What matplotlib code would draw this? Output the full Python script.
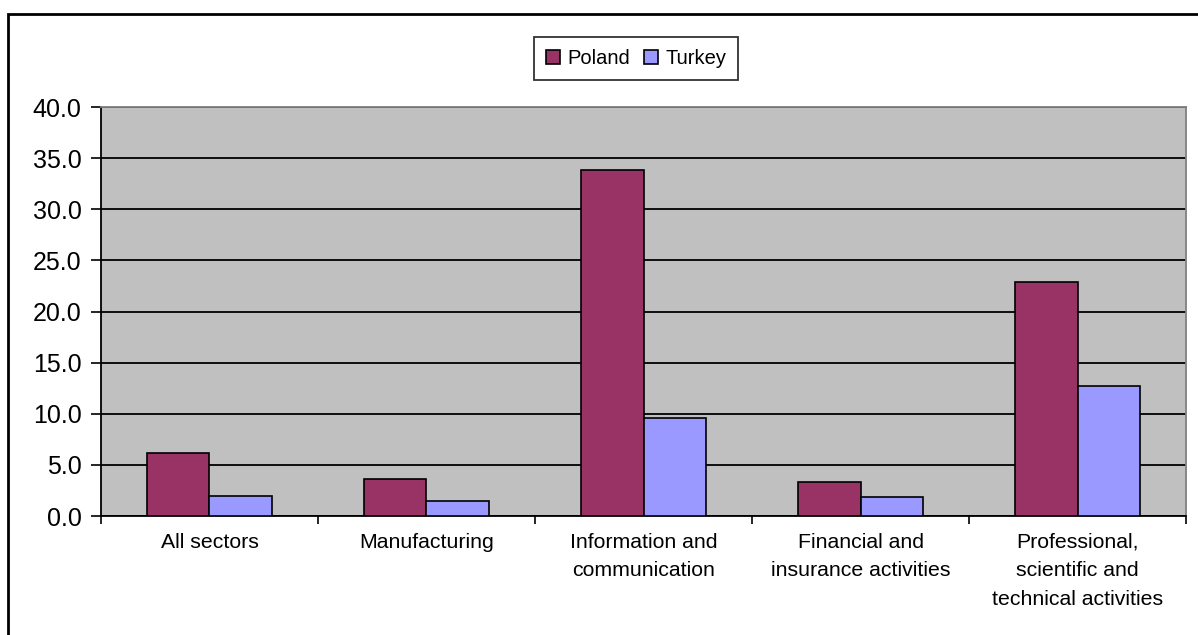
import numpy as np
import matplotlib.pyplot as plt
from matplotlib.patches import Rectangle
from matplotlib.ticker import FormatStrFormatter

plt.rcParams['font.family'] = ['Liberation Sans', 'DejaVu Sans']

categories = ["All sectors", "Manufacturing", "Information and\ncommunication",
              "Financial and\ninsurance activities",
              "Professional,\nscientific and\ntechnical activities"]
poland = [6.2, 3.6, 33.8, 3.3, 22.9]
turkey = [2.0, 1.5, 9.6, 1.9, 12.7]

fig = plt.figure(figsize=(11.98, 6.35), dpi=100)
ax = fig.add_axes([0.0843, 0.1874, 0.9057, 0.644])

x = np.arange(len(categories))
w = 0.286
ax.bar(x - w / 2, poland, w, color='#993366', edgecolor='black', linewidth=1.2, label='Poland', zorder=3)
ax.bar(x + w / 2, turkey, w, color='#9999FF', edgecolor='black', linewidth=1.2, label='Turkey', zorder=3)

ax.set_facecolor('#C0C0C0')
ax.set_xlim(-0.5, len(categories) - 0.5)
ax.set_ylim(0, 40)
ax.set_yticks(np.arange(0, 41, 5))
ax.yaxis.set_major_formatter(FormatStrFormatter('%.1f'))
ax.yaxis.grid(True, color='black', linewidth=1.3, zorder=1)
ax.set_axisbelow(True)

# category labels between boundary ticks
ax.set_xticks(np.arange(-0.5, len(categories), 1.0))
ax.set_xticklabels([])
ax.set_xticks(x, minor=True)
ax.set_xticklabels(categories, minor=True, fontsize=15.3, linespacing=1.65)
ax.tick_params(axis='x', which='minor', length=0, pad=12)
ax.tick_params(axis='x', which='major', length=6, width=1.2, direction='out')
ax.tick_params(axis='y', length=7, width=1.2, direction='out', labelsize=18, pad=7)

for s in ['left', 'bottom']:
    ax.spines[s].set_color('black')
    ax.spines[s].set_linewidth(1.3)
for s in ['top', 'right']:
    ax.spines[s].set_color('#808080')
    ax.spines[s].set_linewidth(1.3)

leg = fig.legend(loc='center', bbox_to_anchor=(0.531, 0.908), ncol=2, fontsize=14.5,
                 frameon=True, fancybox=False, edgecolor='black', handlelength=0.7,
                 handleheight=0.7, handletextpad=0.35, columnspacing=0.7, borderpad=0.6)
leg.get_frame().set_linewidth(1.3)

fig.patches.append(Rectangle((8 / 1198, -0.05), 1.1, 1 - 14 / 635 + 0.05,
                             transform=fig.transFigure, fill=False,
                             edgecolor='black', linewidth=2))

fig.savefig('out.png', dpi=100)
